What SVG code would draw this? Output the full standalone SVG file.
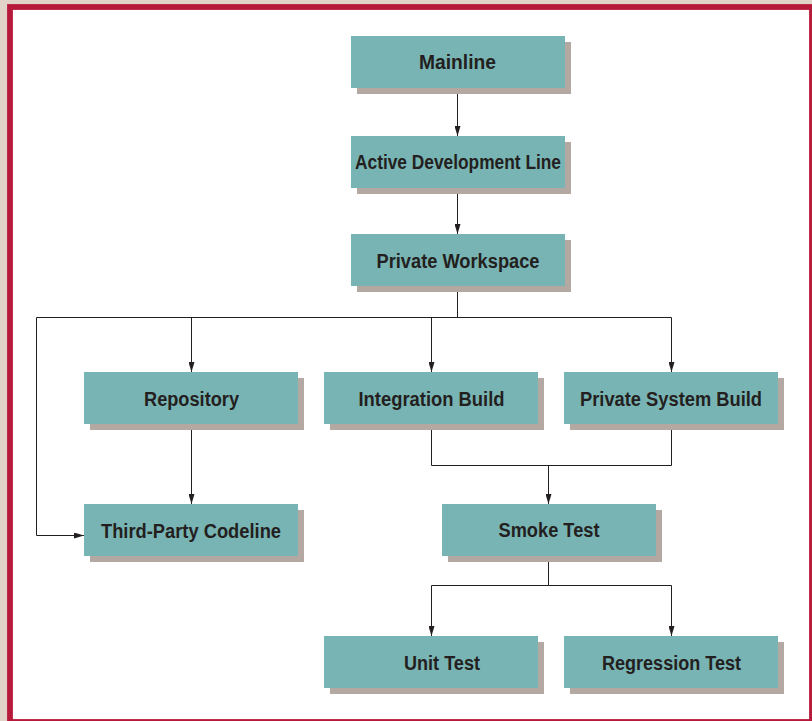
<svg xmlns="http://www.w3.org/2000/svg" width="812" height="721" viewBox="0 0 812 721">
<defs>
<marker id="ah" markerWidth="10" markerHeight="6" refX="10" refY="3" orient="auto" markerUnits="userSpaceOnUse">
<path d="M0,0 L10,3 L0,6 z" fill="#231f20"/>
</marker>
<style>
.sh{fill:#b3a8a2}
.bx{fill:#79b4b4}
.t{font-family:"Liberation Sans Narrow","Liberation Sans",Arial,sans-serif;font-weight:bold;font-size:19.5px;fill:#231f20;text-anchor:middle}
.c{fill:none;stroke:#231f20;stroke-width:1}
.ca{fill:none;stroke:#231f20;stroke-width:1;marker-end:url(#ah)}
</style>
</defs>
<rect x="0" y="0" width="812" height="721" fill="#e2d3c8"/>
<rect x="10" y="7" width="802" height="715" fill="#ffffff" stroke="#b7193a" stroke-width="5.8"/>

<g id="connectors">
<path class="ca" d="M457.5,88 V136"/>
<path class="ca" d="M457.5,188 V234"/>
<path class="c" d="M457.5,286 V317.5"/>
<path class="c" d="M36.5,317.5 H671.5"/>
<path class="ca" d="M191.5,317.5 V372"/>
<path class="ca" d="M431.5,317.5 V372"/>
<path class="ca" d="M671.5,317.5 V372"/>
<path class="ca" d="M36.5,317.5 V535.5 H84"/>
<path class="ca" d="M191.5,424 V504"/>
<path class="c" d="M431.5,424 V465.5 H671.5 V424"/>
<path class="ca" d="M548.5,465.5 V504"/>
<path class="c" d="M548.5,556 V585.5"/>
<path class="ca" d="M548.5,585.5 H431.5 V636"/>
<path class="ca" d="M548.5,585.5 H671.5 V636"/>
</g>

<g id="mainline">
<rect class="sh" x="357" y="42" width="214" height="52"/>
<rect class="bx" x="351" y="36" width="214" height="52"/>
<text class="t" x="457.5" y="69" textLength="77" lengthAdjust="spacingAndGlyphs">Mainline</text>
</g>
<g id="active-development-line">
<rect class="sh" x="357" y="142" width="214" height="52"/>
<rect class="bx" x="351" y="136" width="214" height="52"/>
<text class="t" x="458" y="169" textLength="206" lengthAdjust="spacingAndGlyphs">Active Development Line</text>
</g>
<g id="private-workspace">
<rect class="sh" x="357" y="240" width="214" height="52"/>
<rect class="bx" x="351" y="234" width="214" height="52"/>
<text class="t" x="458" y="267.5" textLength="163" lengthAdjust="spacingAndGlyphs">Private Workspace</text>
</g>
<g id="repository">
<rect class="sh" x="90" y="378" width="214" height="52"/>
<rect class="bx" x="84" y="372" width="214" height="52"/>
<text class="t" x="191.5" y="405.5" textLength="95" lengthAdjust="spacingAndGlyphs">Repository</text>
</g>
<g id="integration-build">
<rect class="sh" x="330" y="378" width="214" height="52"/>
<rect class="bx" x="324" y="372" width="214" height="52"/>
<text class="t" x="431.5" y="405.5" textLength="146" lengthAdjust="spacingAndGlyphs">Integration Build</text>
</g>
<g id="private-system-build">
<rect class="sh" x="570" y="378" width="214" height="52"/>
<rect class="bx" x="564" y="372" width="214" height="52"/>
<text class="t" x="671" y="405.5" textLength="182" lengthAdjust="spacingAndGlyphs">Private System Build</text>
</g>
<g id="third-party-codeline">
<rect class="sh" x="90" y="510" width="214" height="52"/>
<rect class="bx" x="84" y="504" width="214" height="52"/>
<text class="t" x="191" y="537.5" textLength="180" lengthAdjust="spacingAndGlyphs">Third-Party Codeline</text>
</g>
<g id="smoke-test">
<rect class="sh" x="448" y="510" width="214" height="52"/>
<rect class="bx" x="442" y="504" width="214" height="52"/>
<text class="t" x="549" y="537" textLength="101" lengthAdjust="spacingAndGlyphs">Smoke Test</text>
</g>
<g id="unit-test">
<rect class="sh" x="330" y="642" width="214" height="52"/>
<rect class="bx" x="324" y="636" width="214" height="52"/>
<text class="t" x="442" y="670" textLength="76" lengthAdjust="spacingAndGlyphs">Unit Test</text>
</g>
<g id="regression-test">
<rect class="sh" x="570" y="642" width="214" height="52"/>
<rect class="bx" x="564" y="636" width="214" height="52"/>
<text class="t" x="671.5" y="670" textLength="139" lengthAdjust="spacingAndGlyphs">Regression Test</text>
</g>
</svg>
